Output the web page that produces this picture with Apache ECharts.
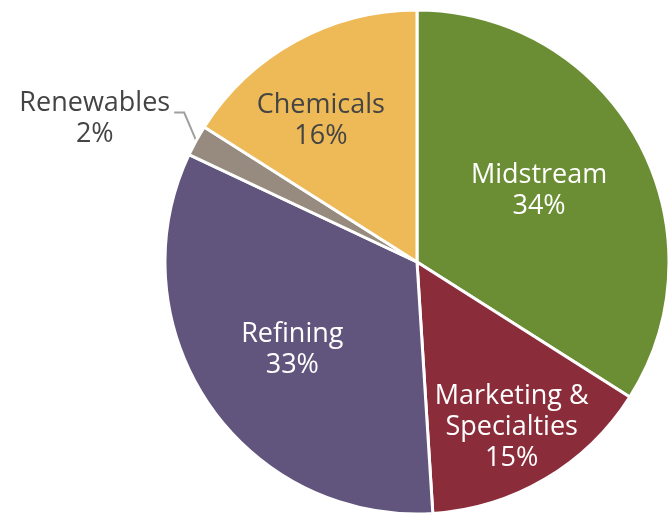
<!DOCTYPE html>
<html>
<head>
<meta charset="utf-8">
<title>Segment mix</title>
<script src="https://cdn.jsdelivr.net/npm/echarts@6/dist/echarts.min.js"></script>
<style>
  html, body { margin: 0; padding: 0; background: #ffffff; }
  #chart { width: 669px; height: 513px; }
</style>
</head>
<body>
<div id="chart"></div>
<script>
// Segment shares, clockwise from 12 o'clock
const segments = ['Midstream', 'Marketing &\nSpecialties', 'Refining', 'Renewables', 'Chemicals'];
const shares = [34, 15, 33, 2, 16];
const colors = ['#6b8e34', '#8b2c3a', '#62557d', '#968b7e', '#edba57'];
const textColors = ['#ffffff', '#ffffff', '#ffffff', '#444444', '#444444'];
// label nudges relative to the default inside spot
const labelShift = [[9, -9], [29, 54], [-18, 15], [0, 0], [-34, -28]];

const chart = echarts.init(document.getElementById('chart'));

chart.setOption({
  animation: false,
  series: [{
    type: 'pie',
    center: [417, 262],
    radius: 252,
    startAngle: 90,
    clockwise: true,
    avoidLabelOverlap: false,
    itemStyle: { borderColor: '#ffffff', borderWidth: 3 },
    label: {
      position: 'inside',
      fontFamily: 'Open Sans',
      fontSize: 27,
      lineHeight: 31,
      align: 'center',
      formatter: p => p.name + '\n' + p.value + '%'
    },
    labelLayout: p => {
      if (segments[p.dataIndex] === 'Renewables' && p.labelLinePoints) {
        // leader line: steep rise off the slice edge, then a short tail
        const p0 = p.labelLinePoints[0];
        const mid = [p0[0] - 12, p0[1] - 28];
        const end = [mid[0] - 10, mid[1]];
        const w = p.labelRect.width;
        return {
          x: end[0] - 4 - w / 2,
          y: end[1] + 6,
          align: 'center',
          verticalAlign: 'middle',
          labelLinePoints: [p0, mid, end]
        };
      }
      const s = labelShift[p.dataIndex];
      return { dx: s[0], dy: s[1] };
    },
    data: segments.map((name, i) => {
      const item = {
        name: name,
        value: shares[i],
        itemStyle: { color: colors[i] },
        label: { color: textColors[i] }
      };
      if (name === 'Renewables') {
        item.label = { position: 'outside', color: textColors[i], distanceToLabelLine: 4 };
        item.labelLine = { show: true, length: 22, length2: 10, lineStyle: { color: '#a0a0a0', width: 2 } };
      }
      return item;
    })
  }]
});
</script>
</body>
</html>
